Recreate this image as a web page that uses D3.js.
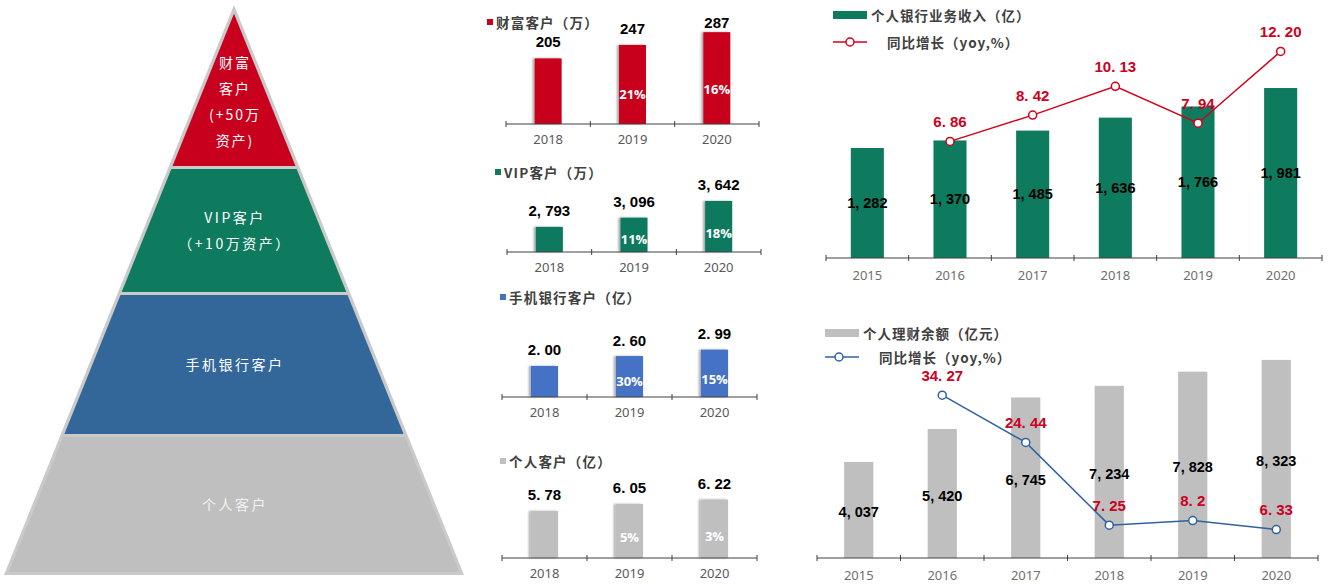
<!DOCTYPE html>
<html><head><meta charset="utf-8">
<script src="https://cdn.jsdelivr.net/npm/d3@7"></script>
<style>
html,body{margin:0;padding:0;background:#fff;}
svg{display:block;}
</style></head>
<body>
<svg id="c" width="1328" height="584"></svg>
<script>
// ---------------- DATA ----------------
const pyramidLevels = ["wealth", "vip", "mobile", "personal"];
const pyramidLabels = [
  ["财富", "客户", "(+50万", "资产)"],
  ["VIP客户", "（+10万资产）"],
  ["手机银行客户"],
  ["个人客户"]
];
const years3 = ["2018", "2019", "2020"];
const wealthValues = [205, 247, 287];
const wealthGrowth = [null, "21%", "16%"];
const vipValues = [2793, 3096, 3642];
const vipGrowth = [null, "11%", "18%"];
const mobileValues = [2.00, 2.60, 2.99];
const mobileGrowth = [null, "30%", "15%"];
const personalValues = [5.78, 6.05, 6.22];
const personalGrowth = [null, "5%", "3%"];
const smallTitles = ["财富客户（万）", "VIP客户（万）", "手机银行客户（亿）", "个人客户（亿）"];

const years6 = ["2015", "2016", "2017", "2018", "2019", "2020"];
const incomeValues = [1282, 1370, 1485, 1636, 1766, 1981];
const incomeYoy = [null, 6.86, 8.42, 10.13, 7.94, 12.20];
const wealthMgmtValues = [4037, 5420, 6745, 7234, 7828, 8323];
const wealthMgmtYoy = [null, 34.27, 24.44, 7.25, 8.2, 6.33];
const incomeTitle = "个人银行业务收入（亿）";
const wealthMgmtTitle = "个人理财余额（亿元）";
const yoyTitle = "同比增长（yoy,%）";

// ---------------- STYLE ----------------
const RED = "#c8001e", GREEN = "#0e7a5e", PBLUE = "#336699", BBLUE = "#4472c4", GRAY = "#bfbfbf";
const LINE_RED = "#d0021b", LINE_BLUE = "#2e62a0", LABEL_RED = "#cc0022";
const CJK = "'Noto Sans CJK SC', 'Noto Sans', sans-serif";
const NUM = "'Liberation Sans', Arial, sans-serif";

const svg = d3.select("#c");
const defs = svg.append("defs");
const f = defs.append("filter").attr("id", "sh").attr("x", "-30%").attr("y", "-10%").attr("width", "160%").attr("height", "120%");
f.append("feDropShadow").attr("dx", -2).attr("dy", 0).attr("stdDeviation", 1.2).attr("flood-color", "#000").attr("flood-opacity", 0.35);

function spaced(s) { return s.replace(",", ", ").replace(".", ". "); }
const fmtInt = v => spaced(d3.format(",")(v));
const fmt2 = v => spaced(d3.format(".2f")(v));

// ---------------- PYRAMID ----------------
(function () {
  const apexX = 234, apexY = 5, baseY = 575, halfBase = 230;
  const k = halfBase / (baseY - apexY);
  const g = svg.append("g");
  g.append("path")
    .attr("d", `M${apexX},${apexY}L${apexX + halfBase},${baseY}L${apexX - halfBase},${baseY}Z`)
    .attr("fill", "#cacaca");
  const bounds = [[14, 166], [169, 292], [295, 434], [437, 572]];
  const colors = [RED, GREEN, PBLUE, GRAY];
  const ys = d3.scaleOrdinal().domain(pyramidLevels).range(bounds);
  const inset = 3.5;
  const hw = y => k * (y - apexY) - inset;
  pyramidLevels.forEach((lvl, i) => {
    const [y0, y1] = ys(lvl);
    const w0 = Math.max(0, hw(y0)), w1 = hw(y1);
    g.append("path")
      .attr("d", `M${apexX - w0},${y0}L${apexX + w0},${y0}L${apexX + w1},${y1}L${apexX - w1},${y1}Z`)
      .attr("fill", colors[i]);
  });
  const textPos = [[62, 88, 114, 140], [217, 243], [364], [504]];
  pyramidLevels.forEach((lvl, i) => {
    pyramidLabels[i].forEach((t, j) => {
      g.append("text")
        .attr("x", apexX + 1).attr("y", textPos[i][j])
        .attr("text-anchor", "middle").attr("dominant-baseline", "central")
        .attr("font-family", CJK).attr("font-size", 14)
        .attr("letter-spacing", i === 0 ? 2 : 2.5)
        .attr("fill", i === 3 ? "#f2f2f2" : "#fff")
        .text(t);
    });
  });
})();

// ---------------- SMALL BAR CHARTS ----------------
function drawSmall(cfg) {
  const g = svg.append("g");
  const x = d3.scaleBand().domain(years3).range(cfg.xr).paddingInner(0.68).paddingOuter(0.34);
  const y = d3.scaleLinear().domain(cfg.yd).range([cfg.axisY, cfg.axisY - (cfg.yd[1] - cfg.yd[0]) * cfg.ppu]);
  const rows = years3.map((yr, i) => ({ yr, v: cfg.values[i], gr: cfg.growth[i] }));
  g.append("rect").attr("x", cfg.lx).attr("y", cfg.ly - 3).attr("width", 6).attr("height", 6).attr("fill", cfg.color);
  g.append("text").attr("x", cfg.lx + 9).attr("y", cfg.ly).attr("dominant-baseline", "central")
    .attr("font-family", CJK).attr("font-weight", "bold").attr("font-size", 13.5).attr("letter-spacing", 1.2)
    .attr("fill", "#404040").text(cfg.title);
  g.selectAll(".b").data(rows).join("rect")
    .attr("x", d => x(d.yr)).attr("width", x.bandwidth())
    .attr("y", d => y(d.v)).attr("height", d => cfg.axisY - y(d.v))
    .attr("fill", cfg.color).attr("filter", "url(#sh)");
  const ax = g.append("g").attr("transform", `translate(0,${cfg.axisY})`);
  ax.append("line").attr("x1", cfg.xr[0]).attr("x2", cfg.xr[1]).attr("stroke", "#404040").attr("stroke-width", 1);
  const tickX = [cfg.xr[0]].concat(years3.map(d => x(d) + x.bandwidth() / 2 + x.step() / 2));
  ax.selectAll(".t").data(tickX).join("line").attr("x1", d => d).attr("x2", d => d).attr("y1", -3).attr("y2", 3)
    .attr("stroke", "#404040");
  g.selectAll(".xl").data(rows).join("text")
    .attr("x", d => x(d.yr) + x.bandwidth() / 2).attr("y", cfg.axisY + 15).attr("dominant-baseline", "central")
    .attr("text-anchor", "middle").attr("font-family", "'Noto Sans', sans-serif").attr("font-size", 13)
    .attr("fill", "#595959").text(d => d.yr);
  g.selectAll(".vl").data(rows).join("text")
    .attr("x", d => x(d.yr) + x.bandwidth() / 2)
    .attr("y", d => Math.max(y(d.v) - cfg.gap, cfg.minLabelY || 0))
    .attr("text-anchor", "middle").attr("font-family", NUM).attr("font-weight", "bold").attr("font-size", 15)
    .attr("fill", "#000").text(d => cfg.fmt(d.v));
  g.selectAll(".gl").data(rows.filter(d => d.gr)).join("text")
    .attr("x", d => x(d.yr) + x.bandwidth() / 2)
    .attr("y", d => cfg.axisY - (cfg.axisY - y(d.v)) * 0.38)
    .attr("text-anchor", "middle").attr("dominant-baseline", "central")
    .attr("font-family", "'Open Sans', sans-serif").attr("font-weight", "bold").attr("font-size", 13)
    .attr("fill", "#fff").text(d => d.gr);
}

drawSmall({ values: wealthValues, growth: wealthGrowth, title: smallTitles[0], color: RED,
  xr: [506, 759], axisY: 124, yd: [0, 300], ppu: 0.32, gap: 11, minLabelY: 28, lx: 487, ly: 22, fmt: d => String(d) });
drawSmall({ values: vipValues, growth: vipGrowth, title: smallTitles[1], color: GREEN,
  xr: [507, 761], axisY: 252, yd: [1970, 3970], ppu: 0.0305, gap: 11, lx: 495, ly: 172, fmt: fmtInt });
drawSmall({ values: mobileValues, growth: mobileGrowth, title: smallTitles[2], color: BBLUE,
  xr: [502, 757], axisY: 397, yd: [0.12, 3.12], ppu: 16.5, gap: 10.5, lx: 500, ly: 297, fmt: fmt2 });
drawSmall({ values: personalValues, growth: personalGrowth, title: smallTitles[3], color: GRAY,
  xr: [502, 757], axisY: 558, yd: [3.97, 6.97], ppu: 26, gap: 11, lx: 500, ly: 461, fmt: fmt2 });

// ---------------- COMBO CHARTS ----------------
function drawCombo(cfg) {
  const g = svg.append("g");
  const x = d3.scaleBand().domain(years6).range(cfg.xr).paddingInner(cfg.pin).paddingOuter(cfg.pin / 2);
  const yb = d3.scaleLinear().domain([0, cfg.barMax]).range([cfg.axisY, cfg.axisY - cfg.barMax * cfg.ppu]);
  const yl = d3.scaleLinear().domain([0, cfg.lineMax]).range([cfg.lineZero, cfg.lineZero - cfg.lineMax * cfg.lppu]);
  const rows = years6.map((yr, i) => ({ yr, v: cfg.values[i], r: cfg.yoy[i] }));
  const cx = d => x(d.yr) + x.bandwidth() / 2;
  g.append("rect").attr("x", cfg.lx).attr("y", cfg.ly1 - 4).attr("width", 34).attr("height", 8).attr("fill", cfg.barColor);
  g.append("text").attr("x", cfg.lx + 38).attr("y", cfg.ly1).attr("dominant-baseline", "central")
    .attr("font-family", CJK).attr("font-weight", "bold").attr("font-size", 13.5).attr("letter-spacing", 1)
    .attr("fill", "#404040").text(cfg.title);
  g.append("line").attr("x1", cfg.lx).attr("x2", cfg.lx + 34).attr("y1", cfg.ly2).attr("y2", cfg.ly2)
    .attr("stroke", cfg.lineColor).attr("stroke-width", 1.5);
  g.append("circle").attr("cx", cfg.lx + cfg.lcx).attr("cy", cfg.ly2).attr("r", 4).attr("fill", "#fff")
    .attr("stroke", cfg.lineColor).attr("stroke-width", 1.5);
  g.append("text").attr("x", cfg.lx + cfg.ltx).attr("y", cfg.ly2).attr("dominant-baseline", "central")
    .attr("font-family", CJK).attr("font-weight", "bold").attr("font-size", 13.5).attr("letter-spacing", 1)
    .attr("fill", "#404040").text(yoyTitle);
  g.selectAll(".b").data(rows).join("rect")
    .attr("x", d => x(d.yr)).attr("width", x.bandwidth())
    .attr("y", d => yb(d.v)).attr("height", d => cfg.axisY - yb(d.v)).attr("fill", cfg.barColor);
  const ax = g.append("g").attr("transform", `translate(0,${cfg.axisY})`);
  ax.append("line").attr("x1", cfg.xr[0]).attr("x2", cfg.xr[1]).attr("stroke", "#404040");
  const tickX = [cfg.xr[0]].concat(years6.map(d => x(d) + x.bandwidth() / 2 + x.step() / 2));
  ax.selectAll(".t").data(tickX).join("line").attr("x1", d => d).attr("x2", d => d).attr("y1", -3).attr("y2", 3)
    .attr("stroke", "#404040");
  g.selectAll(".xl").data(rows).join("text")
    .attr("x", cx).attr("y", cfg.axisY + 17).attr("dominant-baseline", "central")
    .attr("text-anchor", "middle").attr("font-family", "'Noto Sans', sans-serif").attr("font-size", 13)
    .attr("fill", "#6f6f6f").text(d => d.yr);
  g.selectAll(".vl").data(rows).join("text")
    .attr("x", cx).attr("y", d => (yb(d.v) + cfg.axisY) / 2 + cfg.vlShift)
    .attr("text-anchor", "middle").attr("dominant-baseline", "central")
    .attr("font-family", NUM).attr("font-weight", "bold").attr("font-size", 14.5)
    .attr("fill", "#000").text(d => spaced(d3.format(",")(d.v)));
  const pts = rows.filter(d => d.r != null);
  g.append("path").datum(pts)
    .attr("d", d3.line().x(cx).y(d => yl(d.r)))
    .attr("fill", "none").attr("stroke", cfg.lineColor).attr("stroke-width", 1.5);
  g.selectAll(".p").data(pts).join("circle")
    .attr("cx", cx).attr("cy", d => yl(d.r)).attr("r", 4)
    .attr("fill", "#fff").attr("stroke", cfg.lineColor).attr("stroke-width", 1.5);
  g.selectAll(".ll").data(pts).join("text")
    .attr("x", cx).attr("y", d => yl(d.r) - 20).attr("dominant-baseline", "central")
    .attr("text-anchor", "middle").attr("font-family", NUM).attr("font-weight", "bold").attr("font-size", 15)
    .attr("fill", LABEL_RED).text(d => spaced(cfg.lfmt(d.r)));
}

drawCombo({ values: incomeValues, yoy: incomeYoy, title: incomeTitle, barColor: GREEN, lineColor: LINE_RED,
  xr: [826, 1322], pin: 0.6, axisY: 258, barMax: 3000, ppu: 0.0858, lineMax: 15, lineZero: 257, lppu: 16.85,
  lx: 833, ly1: 15, ly2: 42, lcx: 17, ltx: 54, vlShift: 0, lfmt: d3.format(".2f") });
drawCombo({ values: wealthMgmtValues, yoy: wealthMgmtYoy, title: wealthMgmtTitle, barColor: GRAY, lineColor: LINE_BLUE,
  xr: [817, 1318], pin: 0.65, axisY: 558, barMax: 10000, ppu: 0.0238, lineMax: 40, lineZero: 560, lppu: 4.81,
  lx: 825, ly1: 333, ly2: 357, lcx: 14, ltx: 54, vlShift: 2.5, lfmt: d3.format(".2~f") });
</script>
</body></html>
